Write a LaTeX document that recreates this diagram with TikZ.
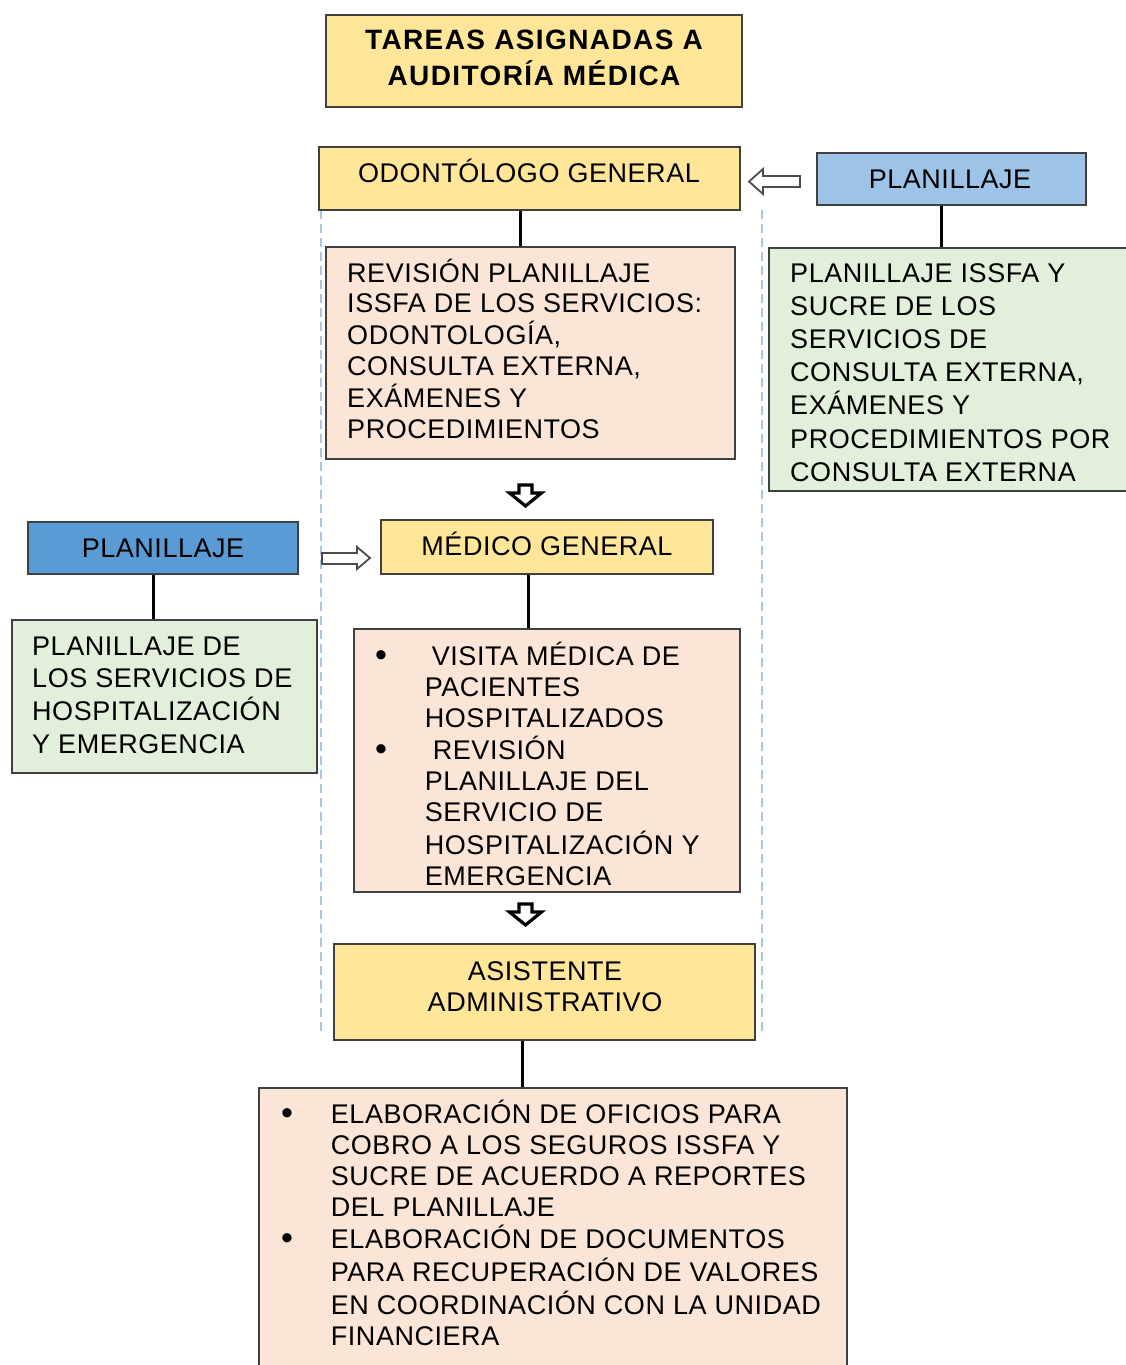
\documentclass[tikz,border=0pt]{standalone}
\usepackage{fontspec}
\setmainfont{Liberation Sans}[LetterSpace=2]
\newfontfamily\titlefont[LetterSpace=5]{Liberation Sans}
\definecolor{gold}{HTML}{FFE699}
\definecolor{lblue}{HTML}{9DC3E6}
\definecolor{mblue}{HTML}{5B9BD5}
\definecolor{lgreen}{HTML}{E2EFDA}
\definecolor{peach}{HTML}{FBE5D6}
\definecolor{dashblue}{HTML}{A8C6E4}
\tikzset{
  rect/.style={draw=black!75, line width=1.3pt, inner sep=0pt},
  conn/.style={line width=3pt, black},
  txt/.style={inner sep=0pt, font=\fontsize{27}{#1}\selectfont},
  txt/.default=31,
  hollow/.style={draw=black!70, fill=white, line width=1.8pt, line join=miter},
  blockdown/.style={draw=black, fill=white, line width=3.2pt, line join=miter},
  grp/.style={dashblue, line width=1.5pt, dash pattern=on 9pt off 5pt}
}
\newcommand\rectnode[6]{\node[rect,#2,minimum width={(#5-#3)*1pt},minimum height={(#6-#4)*1pt}] (#1) at ({(#3+#5)/2},{(#4+#6)/2}) {};}
\newcommand\bul{\makebox[49.7pt][l]{\raisebox{-1pt}{\fontsize{34}{31}\selectfont\textbullet}}}
\begin{document}
\begin{tikzpicture}[x=1pt,y=-1pt]
\useasboundingbox (0,0) rectangle (1126,1365);
\fill[white] (0,0) rectangle (1126,1365);
% group dashed borders
\draw[grp] (321,210) -- (321,1033);
\draw[grp] (762,210) -- (762,1033);
% boxes
\rectnode{title}{fill=gold}{326}{15}{742}{107}
\rectnode{odon}{fill=gold}{319}{147}{740}{210}
\rectnode{planR}{fill=lblue}{817}{153}{1086}{205}
\rectnode{greenR}{fill=lgreen}{769}{248}{1134}{491}
\rectnode{rev}{fill=peach}{326}{247}{735}{459}
\rectnode{med}{fill=gold}{381}{520}{713}{574}
\rectnode{planL}{fill=mblue}{28}{522}{298}{574}
\rectnode{greenL}{fill=lgreen}{12}{620}{317}{773}
\rectnode{visit}{fill=peach}{354}{629}{740}{892}
\rectnode{asis}{fill=gold}{334}{944}{755}{1040}
\rectnode{bottom}{fill=peach}{259}{1088}{847}{1385}
% texts
\node[inner sep=0pt, anchor=base, font=\titlefont\bfseries\fontsize{28}{36}\selectfont] (titleT) at (534,49)
  {\begin{tabular}[t]{@{}c@{}}TAREAS ASIGNADAS A\\AUDITORÍA MÉDICA\end{tabular}};
\node[txt, anchor=base] (odonT) at (529,182) {ODONTÓLOGO GENERAL};
\node[txt, anchor=base] (planRT) at (950,188) {PLANILLAJE};
\node[txt=33.2, anchor=base west] (greenRT) at (790,282)
  {\begin{tabular}[t]{@{}l@{}}PLANILLAJE ISSFA Y\\SUCRE DE LOS\\SERVICIOS DE\\CONSULTA EXTERNA,\\EXÁMENES Y\\PROCEDIMIENTOS POR\\CONSULTA EXTERNA\end{tabular}};
\node[txt=30.4, anchor=base west] (revT) at (347,282)
  {\begin{tabular}[t]{@{}l@{}}REVISIÓN PLANILLAJE\\ISSFA DE LOS SERVICIOS:\\ODONTOLOGÍA,\\CONSULTA EXTERNA,\\EXÁMENES Y\\PROCEDIMIENTOS\end{tabular}};
\node[txt, anchor=base] (medT) at (547,555) {MÉDICO GENERAL};
\node[txt, anchor=base] (planLT) at (163,557) {PLANILLAJE};
\node[txt=32.7, anchor=base west] (greenLT) at (32,655)
  {\begin{tabular}[t]{@{}l@{}}PLANILLAJE DE\\LOS SERVICIOS DE\\HOSPITALIZACIÓN\\Y EMERGENCIA\end{tabular}};
\node[txt=31, anchor=base west] (visitT) at (375,665)
  {\begin{tabular}[t]{@{}l@{}l@{}}\bul&\hspace{7pt}VISITA MÉDICA DE\\&PACIENTES\\&HOSPITALIZADOS\\\bul&\hspace{8pt}REVISIÓN\\&PLANILLAJE DEL\\&SERVICIO DE\\&HOSPITALIZACIÓN Y\\&EMERGENCIA\end{tabular}};
\node[txt=31, anchor=base] (asisT) at (545,980)
  {\begin{tabular}[t]{@{}c@{}}ASISTENTE\\ADMINISTRATIVO\end{tabular}};
\node[txt=31, anchor=base west] (bottomT) at (281,1123)
  {\begin{tabular}[t]{@{}l@{}l@{}}\bul&ELABORACIÓN DE OFICIOS PARA\\&COBRO A LOS SEGUROS ISSFA Y\\&SUCRE DE ACUERDO A REPORTES\\&DEL PLANILLAJE\\\bul&ELABORACIÓN DE DOCUMENTOS\\&PARA RECUPERACIÓN DE VALORES\\&EN COORDINACIÓN CON LA UNIDAD\\&FINANCIERA\end{tabular}};
% connectors
\draw[conn] (520,0 |- odon.south) -- (520,0 |- rev.north);
\draw[conn] (941,0 |- planR.south) -- (941,0 |- greenR.north);
\draw[conn] (528,0 |- med.south) -- (528,0 |- visit.north);
\draw[conn] (153,0 |- planL.south) -- (153,0 |- greenL.north);
\draw[conn] (522,0 |- asis.south) -- (522,0 |- bottom.north);
% hollow arrows
\draw[hollow] (800,176) -- (763,176) -- (763,169) -- (749,181.5) -- (763,194) -- (763,187) -- (800,187) -- cycle;
\draw[hollow] (322,553) -- (357,553) -- (357,547) -- (370,558) -- (357,569) -- (357,564) -- (322,564) -- cycle;
% block down arrows
\draw[blockdown] (519,485) -- (532,485) -- (532,493) -- (541.5,493) -- (525.5,506) -- (509.5,493) -- (519,493) -- cycle;
\draw[blockdown] (519,904) -- (532,904) -- (532,912) -- (541.5,912) -- (525.5,925) -- (509.5,912) -- (519,912) -- cycle;
\end{tikzpicture}
\end{document}
